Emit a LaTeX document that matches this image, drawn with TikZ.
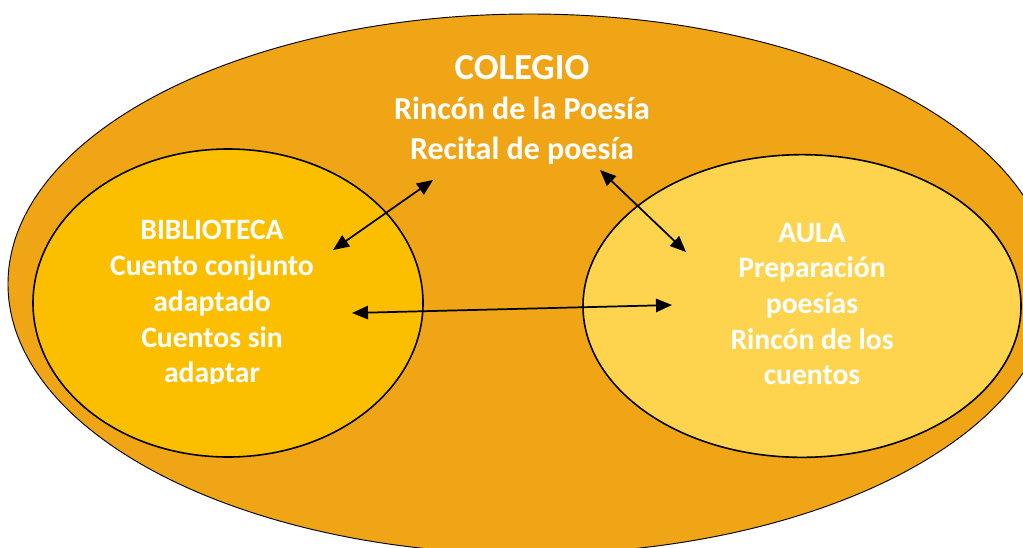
\documentclass[tikz,border=0pt]{standalone}
\usepackage{fontspec}
\setmainfont{Carlito}
\usetikzlibrary{positioning,shapes.geometric,arrows.meta}
\definecolor{colegio_fill}{RGB}{239,165,22}
\definecolor{biblio_fill}{RGB}{252,191,0}
\definecolor{aula_fill}{RGB}{254,212,78}

\begin{document}
\begin{tikzpicture}[x=0.75pt,y=-0.75pt,
  zona/.style={draw=black, ellipse, inner sep=0pt},
  rotulo/.style={text=white, font=\bfseries\fontsize{22.2}{26.8}\selectfont, align=center, inner sep=0pt},
  flecha/.style={{Triangle[length=12pt,width=10pt]}-{Triangle[length=12pt,width=10pt]}, line width=1.3pt}]
\useasboundingbox (0,0) rectangle (1023,547);
\fill[white] (0,0) rectangle (1023,547);
% ellipses
\node[zona, fill=colegio_fill, line width=0.7pt, minimum width=783pt, minimum height=405pt] (colegio) at (530,284) {};
\node[zona, fill=biblio_fill, line width=1.2pt, minimum width=292.5pt, minimum height=231pt] (biblioteca) at (228,303) {};
\node[zona, fill=aula_fill, line width=1.2pt, minimum width=328.5pt, minimum height=227pt] (aula) at (802,306) {};
% texts
\node[rotulo, font=\bfseries\fontsize{27.5}{30}\selectfont] (colegio_title) at (522,68) {COLEGIO};
\node[rotulo, font=\bfseries\fontsize{24}{30}\selectfont] (colegio_text) at (522,131) {Rincón de la Poesía\\Recital de poesía};
\begin{scope}
\clip (40,200) rectangle (420,383);
\node[rotulo] (biblio_text) at (212,304) {BIBLIOTECA\\Cuento conjunto\\adaptado\\Cuentos sin\\adaptar};
\end{scope}
\node[rotulo] (aula_text) at (812,304) {AULA\\Preparación\\poesías\\Rincón de los\\cuentos};
% arrows
\coordinate (end_a1) at (333,250);
\coordinate (end_a2) at (433,180);
\coordinate (end_b1) at (600,170);
\coordinate (end_b2) at (686,252);
\coordinate (end_c1) at (352,313);
\coordinate (end_c2) at (672,305);
\draw[flecha] (end_a1) -- (end_a2);
\draw[flecha] (end_b1) -- (end_b2);
\draw[flecha] (end_c1) -- (end_c2);
\end{tikzpicture}
\end{document}
